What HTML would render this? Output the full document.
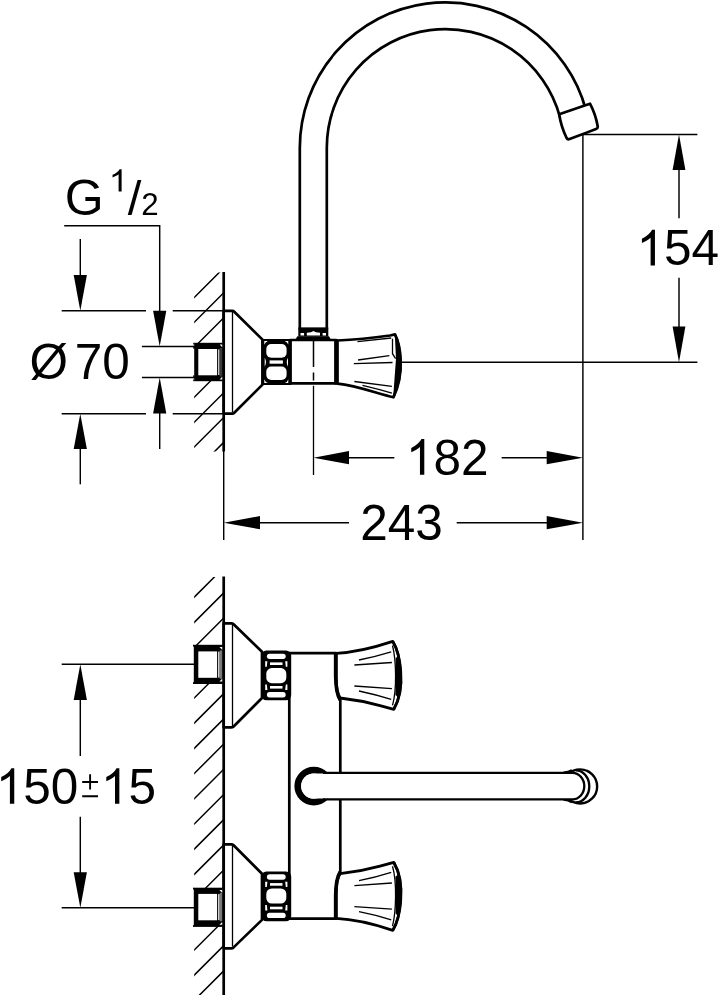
<!DOCTYPE html>
<html>
<head>
<meta charset="utf-8">
<title>Dimension drawing</title>
<style>
html,body{margin:0;padding:0;background:#fff;}
body{width:720px;height:998px;overflow:hidden;font-family:"Liberation Sans",sans-serif;}
svg{display:block;}
.tk{stroke:#000;stroke-width:2.7;fill:none;stroke-linejoin:round;stroke-linecap:butt;}
.tkw{stroke:#000;stroke-width:2.7;fill:#fff;stroke-linejoin:round;}
.tn{stroke:#000;stroke-width:1.45;fill:none;}
.hl{stroke:#000;stroke-width:1.3;fill:none;}
.ht{stroke:#000;stroke-width:1.5;fill:none;}
.ah{fill:#000;stroke:none;}
text{font-family:"Liberation Sans",sans-serif;fill:#000;}
</style>
</head>
<body>
<svg width="720" height="998" viewBox="0 0 720 998">
<rect x="0" y="0" width="720" height="998" fill="#fff"/>
<defs>
  <clipPath id="hc1"><rect x="194.2" y="272.6" width="29.5" height="179"/></clipPath>
  <clipPath id="hc2"><rect x="194.2" y="577" width="29.5" height="418"/></clipPath>
</defs>

<!-- ================= HATCHES ================= -->
<g id="hatch-top" class="ht" clip-path="url(#hc1)">
  <path d="M223.5,268.2 l-40,40 M223.5,293.0 l-40,40 M223.5,318.0 l-40,40 M223.5,368.0 l-40,40 M223.5,393.0 l-40,40 M223.5,417.7 l-40,40 M223.5,442.6 l-40,40"/>
</g>
<g id="hatch-bot" class="ht" clip-path="url(#hc2)">
  <path d="M223.5,567.9 l-40,40 M223.5,593.1 l-40,40 M223.5,618.3 l-40,40 M223.5,668.7 l-40,40 M223.5,693.9 l-40,40 M223.5,719.1 l-40,40 M223.5,744.3 l-40,40 M223.5,769.5 l-40,40 M223.5,794.7 l-40,40 M223.5,819.9 l-40,40 M223.5,845.1 l-40,40 M223.5,870.3 l-40,40 M223.5,920.7 l-40,40 M223.5,945.9 l-40,40 M223.5,971.1 l-40,40"/>
</g>

<!-- ================= DIMENSION LINES ================= -->
<g id="dims" class="tn">
  <!-- G 1/2 leader -->
  <path d="M64.2,225.8 H159.7 V311"/>
  <path d="M80.3,239 V276"/>
  <!-- dia 70 ext lines -->
  <path d="M61.7,310.8 H146 M172.7,310.8 H223"/>
  <path d="M61.7,413.7 H146 M172.7,413.7 H223"/>
  <path d="M141.9,346.4 H195 M141.9,377.5 H195"/>
  <path d="M159.7,412 V449"/>
  <path d="M80.3,448 V484.3"/>
  <!-- wall ext -->
  <path d="M223.7,451 V540"/>
  <!-- centre line below body -->
  <path d="M313.5,385.8 V475" stroke-width="1.3"/>
  <!-- 182 -->
  <path d="M348,457.7 H394.3 M501.7,457.7 H548"/>
  <!-- 243 -->
  <path d="M259,522.7 H349 M456.7,522.7 H548"/>
  <!-- right vertical -->
  <path d="M582.9,134.4 V540"/>
  <!-- 154 -->
  <path d="M582.9,134.4 H697.4"/>
  <path d="M401,362.2 H697.4"/>
  <path d="M679,169 V218.2 M679,277.8 V327.5"/>
  <!-- 150 -->
  <path d="M61.7,664.3 H194 M61.7,907.7 H194"/>
  <path d="M80.3,699 V756 M80.3,816.7 V873.3"/>
</g>
<g id="arrows" class="ah">
  <polygon points="80.3,310.8 73.7,275 86.9,275"/>
  <polygon points="159.7,346.4 153.1,310.8 166.3,310.8"/>
  <polygon points="159.7,377.5 153.1,413.5 166.3,413.5"/>
  <polygon points="80.3,413.7 73.7,449 86.9,449"/>
  <polygon points="313.5,457.7 349,451.1 349,464.3"/>
  <polygon points="582.9,457.7 546.7,451.1 546.7,464.3"/>
  <polygon points="223.7,522.7 260,516.1 260,529.3"/>
  <polygon points="582.9,522.7 546.7,516.1 546.7,529.3"/>
  <polygon points="679,134.4 672.6,170 685.4,170"/>
  <polygon points="679,362.2 672.6,326.5 685.4,326.5"/>
  <polygon points="80.3,664.3 73.7,700 86.9,700"/>
  <polygon points="80.3,907.7 73.7,872.3 86.9,872.3"/>
</g>

<!-- ================= TEXT ================= -->
<defs><path id="one" d="M763,0 H583 V1147 Q518,1085 412.5,1023 Q307,961 223,930 V1104 Q374,1175 487,1276 Q600,1377 647,1472 H763 Z"/></defs>
<g id="labels" font-size="49.5" opacity="0.999">
  <text x="64.8" y="215" font-size="50">G</text>
  <use href="#one" transform="translate(108.80,191.60) scale(0.01680,-0.01522)"/>
  <text x="127.7" y="214.8" font-size="49">/</text>
  <text x="141.35" y="215.4" font-size="31.3">2</text>
  <text x="29.5" y="379.2">Ø</text>
  <text x="74.8" y="379.2">70</text>
  <use href="#one" transform="translate(405.86,474.70) scale(0.02417,-0.02417)"/>
  <text x="433.39" y="474.7">82</text>
  <text x="360.3" y="539.7">243</text>
  <use href="#one" transform="translate(636.51,265.40) scale(0.02417,-0.02417)"/>
  <text x="664.04" y="265.4">54</text>
  <use href="#one" transform="translate(-4.19,803.75) scale(0.02417,-0.02417)"/>
  <text x="23.34" y="803.75">50</text>
  <use href="#one" transform="translate(100.91,803.75) scale(0.02417,-0.02417)"/>
  <text x="128.44" y="803.75">5</text>
</g>
<g id="pm" stroke="#000" stroke-width="1.9" fill="none">
  <path d="M82.2,782 H98 M90.1,774.2 V789.6 M82.2,796.2 H98"/>
</g>

<!-- ================= WALLS ================= -->
<path class="tk" d="M223.7,272 V451.5"/>
<path class="tk" d="M223.7,576.5 V995"/>

<g id="topview">
  <!-- spout tube -->
  <path class="tkw" stroke-width="2.5" d="M299.8,329 V147.9 A145.6,145.6 0 0 1 586.0,110.2 L560.0,117.2 A118.6,118.6 0 0 0 326.8,147.9 V329 Z"/>
  <!-- aerator -->
  <path class="tkw" stroke-width="3" d="M559.2,114.2 L590,103.7 Q595.4,113.8 597.7,126.2 Q598,128.4 596,129.1 L569.6,139 Q567.6,139.8 566.6,138 Q561,126.3 559.2,114.2 Z"/>
  <!-- pipe collar -->
  <rect x="298.3" y="327.5" width="30" height="9" fill="#000"/>
  <rect x="300.5" y="333" width="3.6" height="2.5" fill="#fff"/>
  <rect x="322.6" y="333" width="3.4" height="2.5" fill="#fff"/>
  <path d="M306.8,335.5 V332.8 L311,332.2 L313.4,330.9 L316,332.2 L320,332.8 V335.5 Z" fill="#fff"/>
  <path d="M294.6,340.8 L297.4,336.2 H329 L331.6,340.8 Z" fill="#000"/>
  <!-- flange / rosette -->
  <path class="tkw" d="M223.7,310.8 H232.4 Q233.3,310.8 234,311.5 L262.5,339.6 V384.6 L234,413 Q233.3,413.7 232.4,413.7 H223.7 Z"/>
  <path class="hl" d="M232.5,312 V412.5"/>
  <!-- thread G1/2 -->
  <rect x="194.2" y="342.8" width="28.4" height="38.4" fill="#000"/>
  <rect x="193.2" y="342.8" width="1.2" height="1.7" fill="#000"/><rect x="193.2" y="345.8" width="1.2" height="2.9" fill="#000"/>
  <rect x="193.2" y="379.5" width="1.2" height="1.7" fill="#000"/><rect x="193.2" y="375.3" width="1.2" height="2.9" fill="#000"/>
  <rect x="198.3" y="349" width="18.8" height="26.3" fill="#fff"/>
  <rect x="218" y="349.4" width="1.6" height="25.6" fill="#c8c8c8"/>
  <rect x="219.6" y="348" width="2.5" height="28.6" fill="#3a3a3a"/>
  <path d="M219.6,344.6 h2.6 v2.6 Z M219.6,379.4 h2.6 v-2.6 Z" fill="#fff"/>
  <!-- nut -->
  <rect x="261.3" y="339" width="29.8" height="46" fill="#000"/>
  <rect x="266.3" y="344.1" width="20.3" height="13.7" rx="5" ry="5" fill="#fff"/>
  <rect x="266.3" y="366.6" width="20.3" height="13.3" rx="5" ry="5" fill="#fff"/>
  <rect x="269.6" y="360.4" width="13.3" height="3.3" fill="#fff"/>
  <path d="M264.3,341 h3.6 q-2.6,1 -3.6,3.8 Z M288.4,341 h-3.6 q2.6,1 3.6,3.8 Z M264.3,383 h3.6 q-2.6,-1 -3.6,-3.8 Z M288.4,383 h-3.6 q2.6,-1 3.6,-3.8 Z" fill="#fff"/>
  <path d="M264.7,357.8 q2.6,4.4 0,9 Z M288,357.8 q-2.6,4.4 0,9 Z" fill="#fff"/>
  <!-- body -->
  <rect x="290.3" y="340" width="45.7" height="43.3" class="tkw" stroke-width="2.3"/>
  <path d="M336,339 V384.5" stroke="#000" stroke-width="3.7" fill="none"/>
  <path d="M290.2,339 V384.5" stroke="#000" stroke-width="3" fill="none"/>
  <!-- centre line dashes inside body -->
  <path d="M313.5,340.8 V367.1 M313.5,372.5 V380.4" stroke="#000" stroke-width="1.5" fill="none"/>
  <!-- handle -->
  <path d="M337.5,340.5 Q362,339.4 390,335.5 L395,334.4 C400,344 405.6,372 393.4,397.3 C378,394 358,385.8 337.5,383.7 Z" fill="#fff" stroke="#000" stroke-width="2.7" stroke-linejoin="round"/>
  <path d="M394.9,336.5 L396,358.7 L393.2,396.6 C405,372 400.6,346 395.4,335 Z" fill="#000"/>
  <path d="M395.2,335 C399.8,344.6 405.2,371 393.5,397" fill="none" stroke="#000" stroke-width="2.4"/>
  <g class="hl" stroke-width="1.1" stroke="#000">
    <path d="M357.5,341.6 L391.2,338"/>
    <path d="M358.1,360 L389.4,355.6"/>
    <path d="M353.8,363.7 L392.5,362.5"/>
    <path d="M354.4,381.5 L391.9,386.3"/>
    <path d="M362.5,385.4 Q378,389 391.9,393.2" stroke-width="1.3"/>
    <path d="M392.5,338.7 V353.7 L395.6,358.7"/>
  </g>
</g>
<!--TOPVIEW-->
<defs>
<g id="valve">
  <!-- flange -->
  <path class="tkw" d="M223.7,623.4 H231.3 Q232.6,623.4 233.6,624.3 L262,651.8 V698 L233.6,726.5 Q232.6,727.4 231.3,727.4 H223.7 Z"/>
  <path class="hl" d="M232.5,625 V726"/>
  <!-- thread -->
  <rect x="193.8" y="644.8" width="28.8" height="39.2" fill="#000"/>
  <rect x="193" y="644.8" width="1" height="1.8" fill="#000"/><rect x="193" y="682.2" width="1" height="1.8" fill="#000"/>
  <rect x="198.3" y="651.4" width="18.8" height="26.4" fill="#fff"/>
  <rect x="218" y="651.6" width="1.7" height="26" fill="#d0d0d0"/>
  <rect x="219.7" y="650.4" width="2.4" height="28.4" fill="#777"/>
  <path d="M219.4,647 h2.8 v2.8 Z M219.4,681.6 h2.8 v-2.8 Z" fill="#fff"/>
  <!-- nut (plan) -->
  <rect x="261.2" y="650.4" width="30" height="49.9" rx="5.2" ry="5.2" fill="#000"/>
  <rect x="266.9" y="653.7" width="18.8" height="5.2" rx="2.6" ry="2.6" fill="#fff"/>
  <rect x="270" y="662.4" width="12.5" height="2.6" fill="#fff"/>
  <path d="M265.2,661.3 l2.2,0 l-0.6,5.4 l-1.6,0 Z M287.4,661.3 l-2.2,0 l0.6,5.4 l1.6,0 Z" fill="#fff"/>
  <rect x="266.3" y="668.1" width="20" height="15.1" rx="5.5" ry="5.5" fill="#fff"/>
  <rect x="270" y="686" width="12.5" height="2.6" fill="#fff"/>
  <path d="M265.2,690 l2.2,0 l-0.6,-5.4 l-1.6,0 Z M287.4,690 l-2.2,0 l0.6,-5.4 l1.6,0 Z" fill="#fff"/>
  <rect x="266.9" y="692" width="18.8" height="5.4" rx="2.7" ry="2.7" fill="#fff"/>
  <!-- handle -->
  <path d="M336.2,653.3 C352,652.6 372,648.3 392.8,641.4 C400,653 406.4,688 393.8,709.4 L380,705.6 Q361,700.4 340.2,698 C337,694 336.2,688 336.2,678 Z" fill="#fff" stroke="#000" stroke-width="2.8" stroke-linejoin="round"/>
  <path d="M335.7,652 V676 C335.8,688 337,695 340.3,700" fill="none" stroke="#000" stroke-width="3.7"/>
  <path d="M395.6,658.5 L396,677 L395.4,695 L398.4,697.5 C402.6,688 402.6,664 398.4,655 Z" fill="#000"/>
  <path d="M392.5,645.5 C396.2,660 397,690 392.5,705.4" fill="none" stroke="#000" stroke-width="1.3"/>
  <path d="M393,641.6 C400,653 406.2,688 393.9,709" fill="none" stroke="#000" stroke-width="2.6"/>
  <g fill="none" stroke="#000" stroke-width="1.3">
    <path d="M359,660 Q376,656.6 391.2,651.9"/>
    <path d="M354.4,665 L391.9,662.5"/>
    <path d="M354.4,686 L391.9,688.7"/>
    <path d="M359,691 Q376,694.6 391.2,699.4"/>
  </g>
</g>
</defs>
<g id="botview">
  <!-- body -->
  <path class="tkw" d="M289.3,653.1 H336 V676 C336,688 337,695 340.3,700 V871.7 C337,876.7 336,883.7 336,895.7 V918.6 H289.3 Z"/>
  <use href="#valve"/>
  <use href="#valve" transform="translate(0,1571.7) scale(1,-1)"/>
  <!-- spout (plan) -->
  <circle cx="313.8" cy="786.1" r="16.05" fill="none" stroke="#000" stroke-width="6.7"/>
  <circle cx="580.1" cy="786.4" r="17.05" fill="#fff" stroke="#000" stroke-width="2.4"/>
  <path d="M563.5,772.6 Q568.5,772.4 572,770.2 M563.5,799.5 Q568.5,799.8 572,802.4" fill="none" stroke="#000" stroke-width="2.4"/>
  <path d="M575.8,770.4 A13.5,16 0 0 1 575.8,802.4" fill="none" stroke="#000" stroke-width="2.3"/>
  <path d="M324.6,772.8 H572.5 A11.8,13.3 0 0 1 572.5,799.4 H324.6 Z" fill="#fff" stroke="none"/>
  <path d="M313.8,773.5 H330 V798.6 H313.8 A12.6,12.55 0 0 1 313.8,773.5 Z" fill="#fff" stroke="none"/>
  <path d="M323,772.8 H572.5 A11.8,13.3 0 0 1 572.5,799.4 H323" fill="none" stroke="#000" stroke-width="2.3"/>
</g>
<!--BOTVIEW-->
</svg>
</body>
</html>
